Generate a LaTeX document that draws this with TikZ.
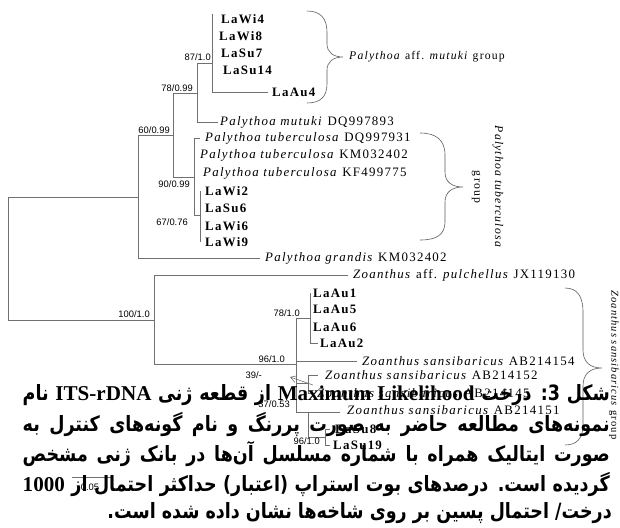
\documentclass[tikz,border=0pt]{standalone}
\usepackage{fontspec}
\setmainfont{Liberation Serif}
\newfontfamily\treefont{Liberation Serif}[LetterSpace=10]
\newfontfamily\supportfont{Liberation Sans}
\newfontfamily\persianfont[Script=Arabic, FakeStretch=0.83]{DejaVu Sans}
\newfontfamily\captionlatin{Liberation Serif}
\TeXXeTstate=1
\usetikzlibrary{arrows.meta}
\definecolor{treegray}{RGB}{112,112,112}
\definecolor{bracegray}{RGB}{90,90,90}

\tikzset{
  branch/.style={draw=treegray, line width=0.5pt},
  sample/.style={anchor=west, inner sep=0pt, font=\treefont\bfseries\fontsize{11}{12}\selectfont},
  taxon/.style={anchor=west, inner sep=0pt, font=\treefont\fontsize{11}{12}\selectfont},
  support/.style={anchor=south east, inner sep=0pt, font=\supportfont\fontsize{8}{9}\selectfont},
  groupbrace/.style={draw=bracegray, line width=0.5pt},
  grouplabel/.style={inner sep=0pt, font=\treefont\fontsize{10}{11}\selectfont},
  captionline/.style={anchor=east, inner sep=0pt, font=\persianfont\bfseries\fontsize{18}{22}\selectfont},
}

\begin{document}
\begin{tikzpicture}[x=0.03cm, y=-0.03cm]
  \useasboundingbox (0,0) rectangle (620,527);
  % Define caption width
  \def\capwidth{17.61cm}

  % Internal nodes of the tree
  \coordinate (root) at (8,258);
  \coordinate (nP) at (138,197);
  \coordinate (nA) at (173,135);
  \coordinate (nB) at (197,93);
  \coordinate (nD) at (212,63);
  \coordinate (nC) at (194,177);
  \coordinate (nE) at (200,215);
  \coordinate (nZ) at (154,320);
  \coordinate (nF) at (296,364);
  \coordinate (nG) at (310,318);
  \coordinate (nH) at (308,383);
  \coordinate (nK) at (308,412);
  \coordinate (nJ) at (325,437);

  % Branch tips
  \coordinate (tLaAu4) at (268,92);
  \coordinate (tMutuki) at (218,122);
  \coordinate (tDQ931) at (200,138);
  \coordinate (tGrandis) at (260,258);
  \coordinate (tPulch) at (348,275);
  \coordinate (tAB154) at (357,361);
  \coordinate (tLaAu2) at (318,343);
  \coordinate (tAB152) at (318,375);
  \coordinate (tAB145) at (314,393);
  \coordinate (tAB151) at (340,412);
  \coordinate (tLaSu8) at (330,429);
  \coordinate (tLaSu19) at (330,445);

  % Leaves sitting on a vertical line
  \foreach \name/\y/\dx in {LaWi4/19/9, LaWi8/36/7, LaSu7/53/9, LaSu14/70/11}
    \node[sample] (\name) at (212+\dx,\y) {\name};
  \foreach \name/\y in {LaWi2/191, LaSu6/208, LaWi6/226, LaWi9/242}
    \node[sample] (\name) at (205,\y) {\name};
  \foreach \name/\y in {LaAu1/293, LaAu5/309, LaAu6/327}
    \node[sample] (\name) at (313,\y) {\name};

  % Leaves at branch tips
  \node[sample, shift={(4,0)}] (LaAu4) at (tLaAu4) {LaAu4};
  \node[taxon, shift={(2,0)}] (mutuki) at (tMutuki) {\textit{Palythoa mutuki} DQ997893};
  \node[taxon, shift={(5,0)}] (tuberA) at (tDQ931) {\textit{Palythoa tuberculosa} DQ997931};
  \node[taxon] (tuberB) at (200,155) {\textit{Palythoa tuberculosa} KM032402};
  \node[taxon] (tuberC) at (203,173) {\textit{Palythoa tuberculosa} KF499775};
  \node[taxon, shift={(5,0)}] (grandis) at (tGrandis) {\textit{Palythoa grandis} KM032402};
  \node[taxon, shift={(5,0)}] (pulch) at (tPulch) {\textit{Zoanthus} aff. \textit{pulchellus} JX119130};
  \node[sample, shift={(2,0)}] (LaAu2) at (tLaAu2) {LaAu2};
  \node[taxon, shift={(5,0)}] (sansA) at (tAB154) {\textit{Zoanthus sansibaricus} AB214154};
  \node[taxon, shift={(7,0)}] (sansB) at (tAB152) {\textit{Zoanthus sansibaricus} AB214152};
  \node[taxon, shift={(3,0)}] (sansC) at (tAB145) {\textit{Zoanthus sansibaricus} AB214145};
  \node[taxon, shift={(7,-2)}] (sansD) at (tAB151) {\textit{Zoanthus sansibaricus} AB214151};
  \node[sample, shift={(5,0)}] (LaSu8) at (tLaSu8) {LaSu8};
  \node[sample, shift={(3,0)}] (LaSu19) at (tLaSu19) {LaSu19};

  % Branches
  \draw[branch] (root) |- (nP);
  \draw[branch] (root) |- (nZ);
  \draw[branch] (nP) |- (nA);
  \draw[branch] (nP) |- (tGrandis);
  \draw[branch] (nA) |- (nB);
  \draw[branch] (nA) |- (nC);
  \draw[branch] (nB) |- (nD);
  \draw[branch] (nB) |- (tMutuki);
  \draw[branch] (nD) |- (tLaAu4);
  \draw[branch] (nD) -- (nD |- LaWi4.north);
  \draw[branch] (nC) |- (tDQ931);
  \draw[branch] (nC) |- (nE);
  \draw[branch] (nE |- LaWi2) -- (nE |- LaWi9);
  \draw[branch] (nZ) |- (tPulch);
  \draw[branch] (nZ) |- (nF);
  \draw[branch] (nF) |- (nG);
  \draw[branch] (nF) |- (tAB154);
  \draw[branch] (nF) |- (nH);
  \draw[branch] (nF) |- (nK);
  \draw[branch] (nG |- LaAu1) -- (nG);
  \draw[branch] (nG) |- (tLaAu2);
  \draw[branch] (nH) |- (tAB152);
  \draw[branch] (nH) |- (tAB145);
  \draw[branch] (nK) |- (tAB151);
  \draw[branch] (nK) |- (nJ);
  \draw[branch] (nJ) |- (tLaSu8);
  \draw[branch] (nJ) |- (tLaSu19);

  % Support values
  \node[support, shift={(-3,-1)}] (sA) at (nA) {60/0.99};
  \node[support, shift={(-4,-1)}] (sB) at (nB) {78/0.99};
  \node[support, shift={(-1,-2)}] (sD) at (nD) {87/1.0};
  \node[support, anchor=north east, shift={(-4,3)}] (sC) at (nC) {90/0.99};
  \node[support, anchor=north east, shift={(-12,3)}] (sE) at (nE) {67/0.76};
  \node[support, shift={(-4,-2)}] (sZ) at (nZ) {100/1.0};
  \node[support, shift={(-11,-1)}] (sF) at (nF) {96/1.0};
  \node[support, shift={(-10,-1)}] (sG) at (nG) {78/1.0};
  \node[support, shift={(-46,-4)}] (sH) at (nH) {39/-};
  \node[support, shift={(-18,-4)}] (sK) at (nK) {37/0.53};
  \node[support, shift={(-5,8)}] (sJ) at (nJ) {96/1.0};
  \coordinate (arrowtail) at (313,385);
  \coordinate (arrowtip) at (290,377);
  \draw[branch, -{Straight Barb[length=5pt, width=6pt]}] (arrowtail) -- (arrowtip);

  % Scale bar
  \coordinate (scaleL) at (72,477);
  \coordinate (scaleR) at (112,477);
  \draw[branch] (scaleL) -- (scaleR);
  \node[support, anchor=center] (scalelabel) at (90,487) {0.05};

  % Group braces
  \draw[groupbrace] (307,11) .. controls (320,11) and (327,18) .. (327,32) -- (327,44)
    .. controls (327,52) and (333,57) .. (343,57) .. controls (333,57) and (327,62) .. (327,70)
    -- (327,84) .. controls (327,97) and (320,103) .. (307,103);
  \node[grouplabel, anchor=west] (mutukigroup) at (349,57) {\textit{Palythoa} aff. \textit{mutuki} group};
  \draw[groupbrace] (420,133) .. controls (436,133) and (445,140) .. (445,155) -- (445,172)
    .. controls (445,182) and (452,187) .. (463,187) .. controls (452,187) and (445,192) .. (445,202)
    -- (445,222) .. controls (445,235) and (436,240) .. (420,240);
  \node[grouplabel, rotate=-90] (tuberlabel) at (498,187) {\textit{Palythoa tuberculosa}};
  \node[grouplabel, rotate=-90] (tubergroup) at (476,187) {group};
  \draw[groupbrace] (565,288) .. controls (577,288) and (583,296) .. (583,312) -- (583,350)
    .. controls (583,362) and (590,368) .. (602,368) .. controls (590,368) and (583,374) .. (583,386)
    -- (583,425) .. controls (583,438) and (577,445) .. (565,445);
  \node[grouplabel, rotate=-90, font=\treefont\fontsize{9}{10}\selectfont] (zoangroup) at (614,365) {\textit{Zoanthus sansibaricus} group};

  % Caption
  \node[captionline] (cap1) at (610,395) {\makebox[\capwidth][s]{\beginR شکل 3: درخت \beginL{\captionlatin Maximum Likelihood}\endL{} از قطعه ژنی \beginL{\captionlatin ITS-rDNA}\endL{} نام\endR}};
  \node[captionline] (cap2) at (610,424) {\makebox[\capwidth][s]{\beginR نمونه‌های مطالعه حاضر به صورت پررنگ و نام گونه‌های کنترل به\endR}};
  \node[captionline] (cap3) at (610,454) {\makebox[\capwidth][s]{\beginR صورت ایتالیک همراه با شماره مسلسل آن‌ها در بانک ژنی مشخص\endR}};
  \node[captionline] (cap4) at (610,484) {\makebox[\capwidth][s]{\beginR گردیده است. درصدهای بوت استراپ (اعتبار) حداکثر احتمال از \beginL{\captionlatin 1000}\endL\endR}};
  \node[captionline] (cap5) at (612,513) {\beginR درخت/ احتمال پسین بر روی شاخه‌ها نشان داده شده است.\endR};
\end{tikzpicture}
\end{document}
